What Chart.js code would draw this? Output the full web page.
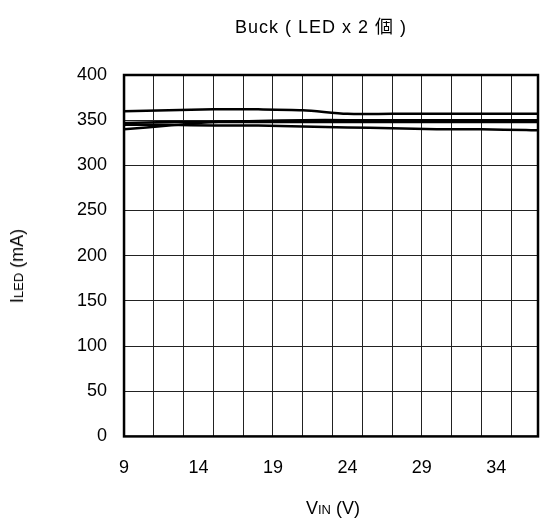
<!DOCTYPE html>
<html>
<head>
<meta charset="utf-8">
<script src="https://cdn.jsdelivr.net/npm/chart.js@4/dist/chart.umd.min.js"></script>
<style>
  body { margin: 0; background: #fff; }
  #wrap { position: relative; width: 541px; height: 523px; font-family: "Liberation Sans", Arial, "Noto Sans CJK JP", sans-serif; color: #000; }
  #myChart { position: absolute; left: 0; top: 0; }
  .txt { position: absolute; white-space: nowrap; font-size: 18px; line-height: 20px; }
  .sm { font-size: 13px; }
  #titulo { left: 321px; top: 17px; transform: translateX(-50%); letter-spacing: 1px; }
  #tituloX { left: 333px; top: 498px; transform: translateX(-50%); }
  #tituloY { left: 18px; top: 266px; transform: translate(-50%, -50%) rotate(-90deg); }
</style>
</head>
<body>
<div id="wrap">
  <canvas id="myChart" width="541" height="523"></canvas>
  <div class="txt" id="titulo">Buck ( LED x 2 個 )</div>
  <div class="txt" id="tituloX">V<span class="sm">IN</span> (V)</div>
  <div class="txt" id="tituloY">I<span class="sm">LED</span> (mA)</div>
</div>
<script>
// datos
const vin = [9, 12, 15, 18, 21, 24, 27, 30, 33, 36, 37];
const serieA = [360, 361, 362, 362, 361, 357, 357, 357, 357, 357, 357];
const serieB = [347, 348, 348, 348, 348, 348, 348, 348, 348, 348, 348];
const serieC = [340, 344, 348, 349, 350, 350, 350, 350, 350, 350, 350];
const serieD = [345, 345, 344, 344, 343, 342, 341, 340, 340, 339, 339];

const etiquetasX = [9, 14, 19, 24, 29, 34];
const lineasX = [9, 11, 13, 15, 17, 19, 21, 23, 25, 27, 29, 31, 33, 35];
const xMin = 9;
const xMax = 36.8;
const yMin = 0;
const yMax = 400;
const yPaso = 50;

function armarSerie(valores) {
    return vin.map((v, i) => ({ x: v, y: valores[i] }));
}

// marco negro alrededor del area
const marco = {
    id: 'marco',
    afterDraw(chart) {
        const a = chart.chartArea;
        const ctx = chart.ctx;
        ctx.save();
        ctx.strokeStyle = '#000';
        ctx.lineWidth = 2.5;
        ctx.strokeRect(a.left, a.top, a.right - a.left, a.bottom - a.top);
        ctx.restore();
    }
};

const ctx = document.getElementById('myChart').getContext('2d');
const myChart = new Chart(ctx, {
    type: 'line',
    data: {
        datasets: [serieA, serieB, serieC, serieD].map(s => ({
            data: armarSerie(s),
            borderColor: '#000',
            borderWidth: 2.5,
            pointRadius: 0,
            tension: 0.3,
            fill: false
        }))
    },
    options: {
        responsive: false,
        animation: false,
        layout: { padding: { top: 75, left: 60, right: 3, bottom: 23 } },
        plugins: {
            legend: { display: false },
            title: { display: false },
            tooltip: { enabled: false }
        },
        scales: {
            x: {
                type: 'linear',
                min: xMin,
                max: xMax,
                afterBuildTicks: axis => {
                    const vals = [...new Set([...lineasX, ...etiquetasX])].sort((a, b) => a - b);
                    axis.ticks = vals.map(v => ({ value: v }));
                },
                border: { display: false },
                grid: {
                    drawTicks: false,
                    lineWidth: 1,
                    color: c => lineasX.includes(c.tick.value) ? '#222' : 'rgba(0,0,0,0)'
                },
                ticks: {
                    autoSkip: false,
                    maxRotation: 0,
                    padding: 21,
                    color: '#000',
                    font: { family: '"Liberation Sans", Arial', size: 18 },
                    callback: v => etiquetasX.includes(v) ? String(v) : ''
                }
            },
            y: {
                min: yMin,
                max: yMax,
                border: { display: false },
                grid: { drawTicks: false, lineWidth: 1, color: '#222' },
                ticks: {
                    stepSize: yPaso,
                    padding: 17,
                    color: '#000',
                    font: { family: '"Liberation Sans", Arial', size: 18 }
                }
            }
        }
    },
    plugins: [marco]
});
</script>
</body>
</html>
